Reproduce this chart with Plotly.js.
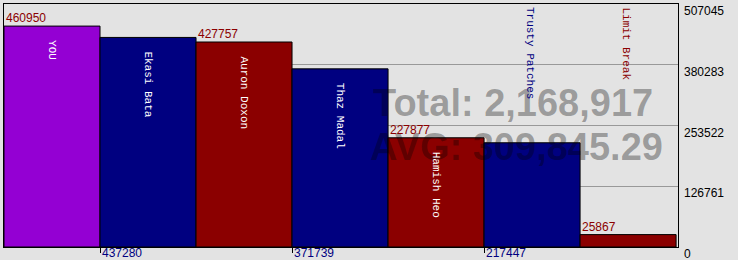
<!DOCTYPE html>
<html>
<head>
<meta charset="utf-8">
<script src="https://cdn.plot.ly/plotly-3.0.1.min.js"></script>
<style>html,body{margin:0;padding:0;background:#e3e3e3;}#chart{width:738px;height:260px;}</style>
</head>
<body>
<div id="chart"></div>
<script>
const names = ["YOU", "Ekasi Bata", "Auron Doxon", "Thaz Madal", "Hamish Heo", "Trusty Patches", "Limit Break"];
const values = [460950, 437280, 427757, 371739, 227877, 217447, 25867];
const barColors = ["#9400d3", "#000080", "#8b0000", "#000080", "#8b0000", "#000080", "#8b0000"];
const yTickVals = [0, 126761, 253522, 380283, 507045];
const yTickText = ["0", "126761", "253522", "380283", "507045"];

const yMax = yTickVals[yTickVals.length - 1];
const total = values.reduce((a, b) => a + b, 0);
const avg = total / values.length;
const fmt = (v, d) => v.toLocaleString("en-US", {minimumFractionDigits: d, maximumFractionDigits: d});

const W = 738, H = 260;
const margin = {l: 4, r: 60, t: 4, b: 13, pad: 0};
const plotH = H - margin.t - margin.b;
const xs = names.map((_, i) => i);

const bigFont = {family: "Arial, Liberation Sans, sans-serif", size: 38, color: "rgba(0,0,0,0.33)", weight: "bold"};
const annotations = [];
annotations.push({
  xref: "paper", yref: "paper", x: 0.755, y: 0.593, xanchor: "center", yanchor: "middle",
  text: "Total: " + fmt(total, 0), showarrow: false, font: bigFont
});
annotations.push({
  xref: "paper", yref: "paper", x: 0.760, y: 0.41, xanchor: "center", yanchor: "middle",
  text: "AVG: " + fmt(avg, 2), showarrow: false, font: bigFont
});

yTickVals.forEach((t, k) => {
  annotations.push({
    xref: "paper", yref: "y", x: 1, y: t, xanchor: "left", yanchor: "top",
    xshift: 5, yshift: 1, showarrow: false, borderpad: 0,
    text: yTickText[k],
    font: {family: "Arial, Liberation Sans, sans-serif", size: 12, color: "#000"}
  });
});

values.forEach((v, i) => {
  const below = i % 2 === 1;
  annotations.push({
    xref: "x", yref: "y", x: i - 0.5, y: below ? 0 : v,
    xanchor: "left", yanchor: below ? "top" : "bottom",
    xshift: 1, yshift: below ? 2 : 0, showarrow: false, borderpad: 0,
    text: String(v),
    font: {family: "Arial, Liberation Sans, sans-serif", size: 12, color: below ? "#000080" : "#8b0000"}
  });
});

names.forEach((n, i) => {
  const barPx = values[i] / yMax * plotH;
  const need = n.length * 6.6 + 16;
  const inside = barPx >= need;
  annotations.push({
    xref: "x", yref: "y", x: i, y: inside ? values[i] : yMax,
    xanchor: "center", yanchor: "top",
    xshift: inside ? 0 : -2,
    yshift: inside ? -13 : -2, showarrow: false, borderpad: 0,
    textangle: 90, text: n,
    font: {family: "Courier New, Liberation Mono, monospace", size: 11, color: inside ? "#ffffff" : barColors[i]}
  });
});

const trace = {
  type: "bar", x: xs, y: values, width: 1,
  marker: {color: barColors, line: {color: "#000000", width: 1}},
  hoverinfo: "none"
};

const layout = {
  width: W, height: H, margin: margin,
  paper_bgcolor: "#e3e3e3", plot_bgcolor: "#e3e3e3",
  showlegend: false, bargap: 0,
  font: {family: "Arial, Liberation Sans, sans-serif", size: 12, color: "#000"},
  xaxis: {
    range: [-0.5, names.length - 0.5 + 0.02], fixedrange: true,
    tickmode: "array", tickvals: [0.5, 2.5, 4.5], ticks: "outside", ticklen: 5, tickcolor: "#000", tickwidth: 1,
    showticklabels: false, showgrid: false, zeroline: false,
    showline: true, linecolor: "#000", linewidth: 1, mirror: true
  },
  yaxis: {
    range: [0, yMax], side: "right", fixedrange: true,
    tickmode: "array", tickvals: yTickVals, ticks: "", showticklabels: false,
    showgrid: true, gridcolor: "#999999", gridwidth: 1, zeroline: false,
    showline: true, linecolor: "#000", linewidth: 1, mirror: true
  },
  annotations: annotations
};

Plotly.newPlot("chart", [trace], layout, {displayModeBar: false, staticPlot: true});
</script>
</body>
</html>
